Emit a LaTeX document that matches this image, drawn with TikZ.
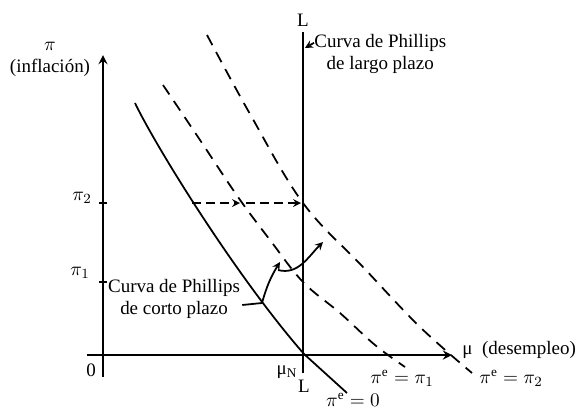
\documentclass[tikz,border=0pt]{standalone}
\usepackage{fontspec}
\setmainfont{Liberation Serif}
\usepackage{amsmath,amssymb}
\usepackage{tikz}

\begin{document}
\begin{tikzpicture}[x=0.2cm, y=0.2cm, >=stealth, font=\fontsize{10.8}{12.5}\selectfont,
    axis/.style={line width=1.3pt},
    curve/.style={line width=1pt},
    expect/.style={curve, dash pattern=on 6.5pt off 4.5pt}]
        \useasboundingbox (0,0) rectangle (57.8,41.7);
        % the axes and the long-run line L
        \draw[axis, ->] (10.3,4.0) -- (10.3,36.2);
        \draw[axis, ->] (8.7,6.2) -- (45.2,6.2);
        \draw[axis] (30.3,38.5) -- (30.3,4.4);
        \foreach \y in {13.5,21.4}
            \draw[curve] (9.9,\y) -- (10.7,\y);
        % labels of the axes
        \node[align=center, inner sep=0pt] (pi) at (5.0,35.8) {$\pi$\\(inflación)};
        \node[inner sep=0pt] (pitwo) at (8.2,21.9) {$\pi_2$};
        \node[inner sep=0pt] (pione) at (8.0,14.4) {$\pi_1$};
        \node[inner sep=0pt] (zero) at (9.1,4.7) {0};
        \node[inner sep=0pt] (muN) at (28.7,4.5) {μ\textsubscript{N}};
        \node[inner sep=0pt] (Ltop) at (30.3,39.7) {L};
        \node[inner sep=0pt] (Lbot) at (30.4,3.1) {L};
        \node[anchor=west, inner sep=0pt] (mu) at (46.2,6.7) {μ\ \ (desempleo)};
        % the three short-run curves
        \draw[curve] (13.5,31.4) .. controls (15.5,27.2) and (23.5,14.2) .. (30.4,6.3) -- (34.7,2.4);
        \draw[expect] plot[smooth, tension=0.6] coordinates
            {(16.3,33.2) (20.0,27.7) (23.8,22.0) (27.0,17.7) (30.3,13.5) (34.0,10.4) (37.5,7.2) (40.5,5.0)};
        \draw[expect] plot[smooth, tension=0.6] coordinates
            {(20.7,38.2) (25.0,30.3) (30.3,21.4) (36.3,15.0) (42.0,9.0) (47.2,4.4)};
        \node[inner sep=0pt] (e0) at (35.3,1.7) {$\pi^{\mathrm{e}} = 0$};
        \node[inner sep=0pt] (e1) at (40.2,3.9) {$\pi^{\mathrm{e}} = \pi_1$};
        \node[anchor=west, inner sep=0pt] (e2) at (47.9,3.9) {$\pi^{\mathrm{e}} = \pi_2$};
        % expected inflation moves up: dashed arrows at pi_2
        \coordinate (h0) at (19.2,21.4);
        \coordinate (h1) at (24.0,21.4);
        \coordinate (h2) at (24.6,21.4);
        \coordinate (h3) at (30.1,21.4);
        \draw[curve, ->, dash pattern=on 5pt off 3pt] (h0) -- (h1);
        \draw[curve, ->, dash pattern=on 5pt off 3pt] (h2) -- (h3);
        % short-run label and the shift arrows
        \node[align=center, inner sep=0pt] (sr) at (17.4,11.8) {Curva de Phillips\\de corto plazo};
        \coordinate (s0) at (26.2,11.4);
        \coordinate (s1) at (28.0,15.5);
        \coordinate (s2) at (27.8,14.7);
        \coordinate (s3) at (32.3,17.5);
        \draw[curve] (sr.east |- s0) ++(0.2,-0.2) -- (s0);
        \draw[curve, ->] (s0) to[bend left=8] (s1);
        \draw[curve, ->] (s2) to[out=-15, in=225] (s3);
        % long-run label
        \node[align=center, anchor=north west, inner sep=0pt] (lr) at (31.4,38.3) {Curva de Phillips\\de largo plazo};
        \coordinate (lt) at (30.5,36.9);
        \draw[curve, ->] ([yshift=-5pt]lr.north west) -- (lt);
    \end{tikzpicture}
\end{document}
